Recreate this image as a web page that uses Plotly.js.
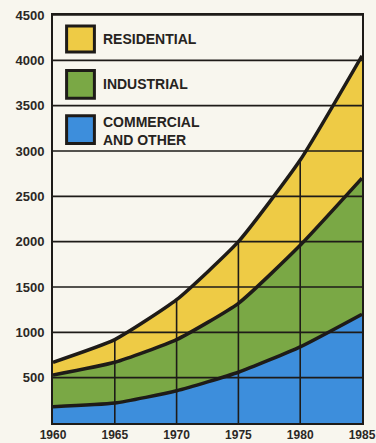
<!DOCTYPE html>
<html>
<head>
<meta charset="utf-8">
<script src="https://cdn.plot.ly/plotly-3.0.1.min.js"></script>
<style>
  html, body { margin: 0; padding: 0; background: #F8F6EE; }
  #chart { width: 376px; height: 443px; }
</style>
</head>
<body>
<div id="chart"></div>
<script>
// Data (stacked components)
const years = [1960, 1965, 1970, 1975, 1980, 1985];
const commercial = [180, 220, 355, 560, 840, 1200];
const industrial = [350, 450, 565, 760, 1120, 1500];
const residential = [140, 250, 440, 680, 940, 1350];
const yTicks = [500, 1000, 1500, 2000, 2500, 3000, 3500, 4000, 4500];
const xTicks = [1960, 1965, 1970, 1975, 1980, 1985];
const seriesNames = ['COMMERCIAL<br>AND OTHER', 'INDUSTRIAL', 'RESIDENTIAL'];

const colors = { res: '#EECB45', ind: '#7AA845', com: '#3D8EDC', ink: '#1E1B18', bg: '#F8F6EE' };

const totals = years.map((_, i) => commercial[i] + industrial[i] + residential[i]);

const lineStyle = { color: colors.ink, width: 3.5, shape: 'spline', smoothing: 0.5 };

const traces = [
  { x: years, y: commercial, type: 'scatter', mode: 'lines', stackgroup: 'one', fillcolor: colors.com, line: lineStyle, name: seriesNames[0], hoverinfo: 'skip' },
  { x: years, y: industrial, type: 'scatter', mode: 'lines', stackgroup: 'one', fillcolor: colors.ind, line: lineStyle, name: seriesNames[1], hoverinfo: 'skip' },
  { x: years, y: residential, type: 'scatter', mode: 'lines', stackgroup: 'one', fillcolor: colors.res, line: lineStyle, name: seriesNames[2], hoverinfo: 'skip' }
];

// horizontal grid lines drawn above the fills
const gx = [], gy = [];
yTicks.forEach(v => { gx.push(xTicks[0], xTicks[xTicks.length - 1], null); gy.push(v, v, null); });
traces.push({ x: gx, y: gy, type: 'scatter', mode: 'lines', line: { color: colors.ink, width: 1.6 }, hoverinfo: 'skip', showlegend: false });

// vertical grid lines only beneath the top curve
const vx = [], vy = [];
years.forEach((yr, i) => { if (i > 0 && i < years.length - 1) { vx.push(yr, yr, null); vy.push(0, totals[i], null); } });
traces.push({ x: vx, y: vy, type: 'scatter', mode: 'lines', line: { color: colors.ink, width: 1.6 }, hoverinfo: 'skip', showlegend: false });

// legend drawn as shapes + annotations
const legendRows = [
  { name: seriesNames[2], color: colors.res, y0: 0.9095, y1: 0.973, ty: 0.941 },
  { name: seriesNames[1], color: colors.ind, y0: 0.796, y1: 0.864, ty: 0.83 },
  { name: seriesNames[0], color: colors.com, y0: 0.685, y1: 0.753, ty: 0.716 }
];
const shapes = legendRows.map(r => ({
  type: 'rect', xref: 'paper', yref: 'paper', x0: 0.044, x1: 0.134, y0: r.y0, y1: r.y1,
  fillcolor: r.color, line: { color: colors.ink, width: 3 }, layer: 'above'
}));
const annotations = legendRows.map(r => ({
  xref: 'paper', yref: 'paper', x: 0.156, y: r.ty, xanchor: 'left', yanchor: 'middle',
  text: r.name, showarrow: false, align: 'left',
  font: { family: 'Liberation Sans, Arial, sans-serif', size: 14, color: '#262320', weight: 700 }
}));

const layout = {
  width: 376, height: 443,
  margin: { l: 53, r: 14, t: 15, b: 20 },
  paper_bgcolor: colors.bg, plot_bgcolor: colors.bg,
  showlegend: false,
  xaxis: {
    range: [1960, 1985], tickvals: xTicks, ticktext: xTicks.map(String),
    showgrid: false, zeroline: false, showline: true, mirror: true,
    linecolor: colors.ink, linewidth: 2, ticks: '', ticklabelstandoff: 0,
    ticklabeloverflow: 'allow',
    tickfont: { family: 'Liberation Sans, Arial, sans-serif', size: 12, color: '#2b2825', weight: 700 },
    layer: 'above traces', fixedrange: true
  },
  yaxis: {
    range: [0, 4500], tickvals: yTicks, ticktext: yTicks.map(String),
    showgrid: false, zeroline: false, showline: true, mirror: true,
    linecolor: colors.ink, linewidth: 2, ticks: '', ticklabelstandoff: 4,
    tickfont: { family: 'Liberation Sans, Arial, sans-serif', size: 13, color: '#2b2825', weight: 700 },
    layer: 'above traces', fixedrange: true
  },
  shapes: shapes,
  annotations: annotations
};

Plotly.newPlot('chart', traces, layout, { displayModeBar: false, staticPlot: true });
</script>
</body>
</html>
